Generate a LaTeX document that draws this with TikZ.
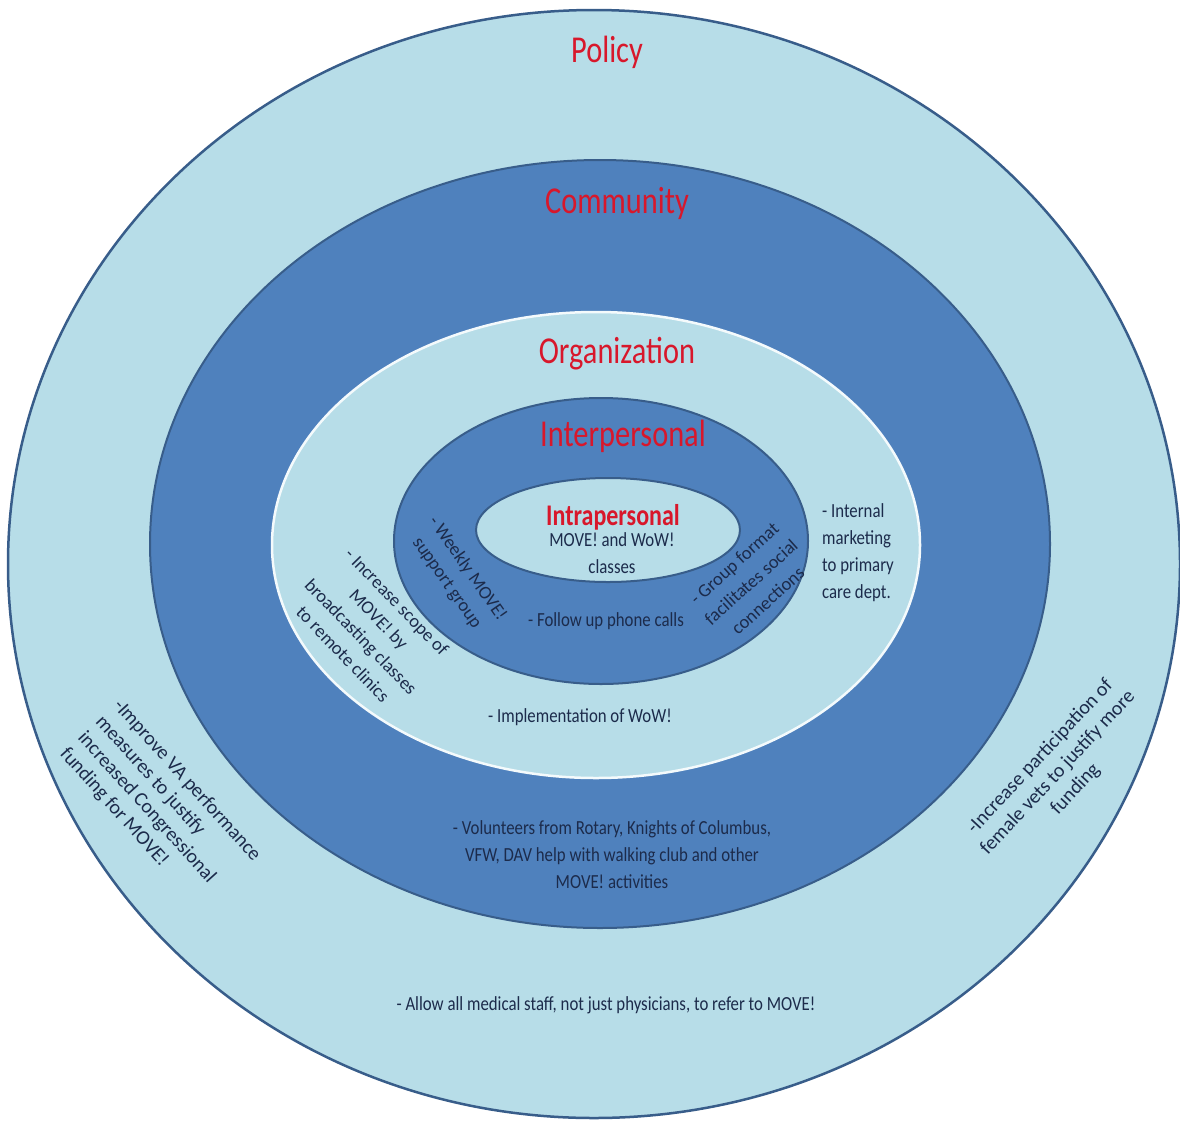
\documentclass[tikz,border=0pt]{standalone}
\usepackage{fontspec}
\setmainfont{Carlito}
\definecolor{lightfill}{HTML}{B7DDE8}
\definecolor{darkfill}{HTML}{4F81BD}
\definecolor{rimline}{HTML}{385D8A}
\definecolor{titlered}{HTML}{D8172B}
\definecolor{bodyink}{HTML}{1C2B4B}
\begin{document}
\begin{tikzpicture}[x=1pt,y=1pt,
  ring/.style={draw=rimline, line width=2.5pt},
  level/.style={text=titlered, inner sep=0pt, xscale=0.8, font=\fontsize{38}{40}\selectfont},
  notetext/.style={text=bodyink, inner sep=0pt, align=center},
  note/.style={notetext, xscale=0.84, font=\fontsize{20}{27}\selectfont},
  tilted/.style={notetext, rotate=#1, font=\fontsize{18.5}{25}\selectfont},
  widetilted/.style={notetext, rotate=#1, font=\fontsize{20}{24}\selectfont}]
  % page frame
  \useasboundingbox (0,0) rectangle (1180,-1122);
  \fill[white] (0,0) rectangle (1180,-1122);

  % nested levels, outermost first
  \path[ring, fill=lightfill] (594,-564) ellipse [x radius=586, y radius=554];
  \path[ring, fill=darkfill, line width=2pt] (600,-544) ellipse [x radius=450, y radius=384];
  \path[draw=white!85!lightfill, line width=2.5pt, fill=lightfill] (596,-545) ellipse [x radius=324, y radius=233];
  \path[ring, fill=darkfill, line width=2pt] (601,-541) ellipse [x radius=207, y radius=143];
  \path[ring, fill=lightfill, line width=2pt] (608,-530) ellipse [x radius=132, y radius=52];

  % level titles
  \node[level] (policy) at (607,-52) {Policy};
  \node[level] (community) at (617,-203) {Community};
  \node[level] (organization) at (617,-354) {Organization};
  \node[level] (interpersonal) at (623,-436) {Interpersonal};
  \node[level, font=\fontsize{30}{32}\selectfont\bfseries] (intrapersonal) at (613,-517) {Intrapersonal};

  % intrapersonal
  \node[note] (classes) at (612,-553) {MOVE! and WoW!\\classes};

  % interpersonal
  \node[note] (phone) at (606,-621) {- Follow up phone calls};
  \node[tilted=-55] (weekly) at (457,-576) {- Weekly MOVE!\\support group};
  \node[tilted=42] (groupfmt) at (751,-582) {- Group format\\facilitates social\\connections};

  % organization
  \node[note, align=left] (internal) at (858,-553) {- Internal\\marketing\\to primary\\care dept.};
  \node[tilted=-46] (scope) at (370,-628) {- Increase scope of\\MOVE! by\\broadcasting classes\\to remote clinics};
  \node[note] (wow) at (580,-717) {- Implementation of WoW!};

  % community
  \node[note] (volunteers) at (612,-855) {- Volunteers from Rotary, Knights of Columbus,\\VFW, DAV help with walking club and other\\MOVE! activities};

  % policy
  \node[widetilted=-48, align=left] (vaperf) at (160,-805) {-Improve VA performance\\measures to justify\\increased Congressional\\funding for MOVE!};
  \node[widetilted=47] (female) at (1058,-773) {-Increase participation of\\female vets to justify more\\funding};
  \node[note] (referral) at (606,-1005) {- Allow all medical staff, not just physicians, to refer to MOVE!};
\end{tikzpicture}
\end{document}
